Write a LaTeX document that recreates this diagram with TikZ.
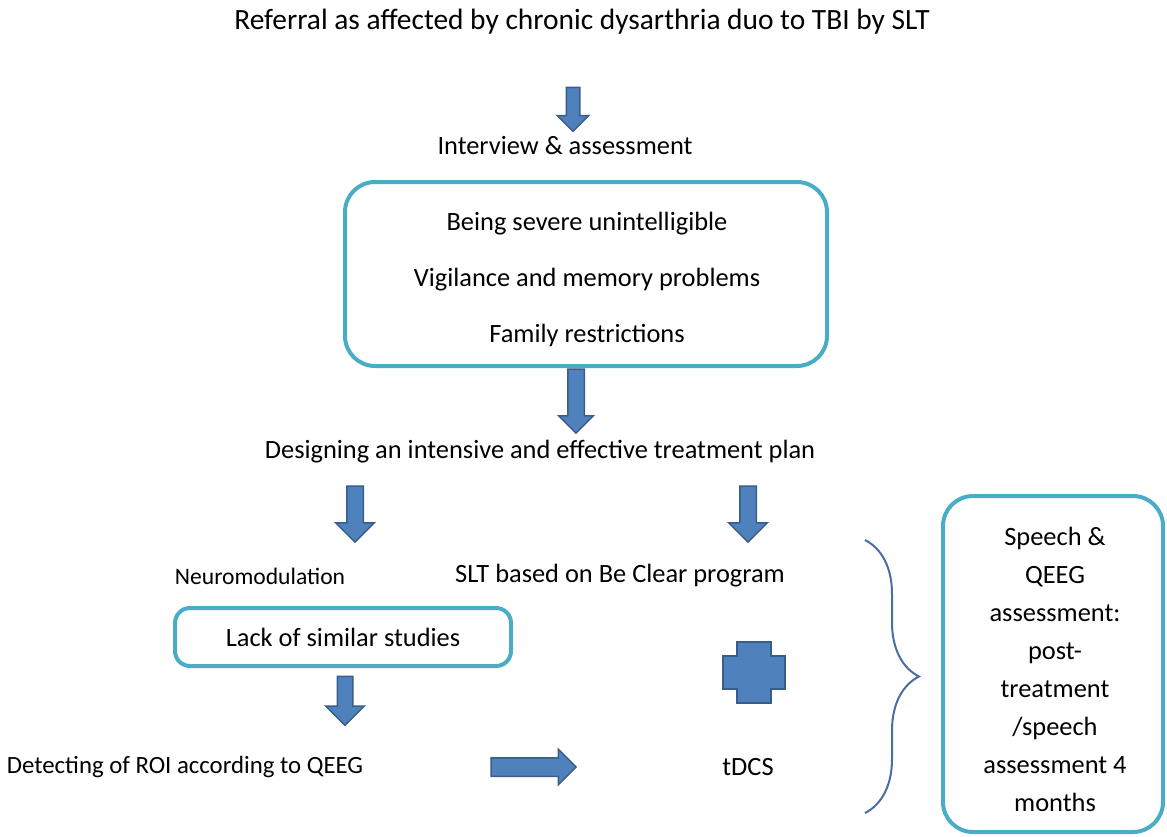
\documentclass[tikz,border=0pt]{standalone}
\usepackage{fontspec}
\setmainfont{Carlito}
\usetikzlibrary{shapes.arrows,decorations.pathreplacing,positioning}
\definecolor{PlanTeal}{HTML}{4BACC6}
\definecolor{PlanBlue}{HTML}{4F81BD}
\definecolor{PlanEdge}{HTML}{385D8A}
\definecolor{PlanBrace}{HTML}{4A6EA3}

\begin{document}
\begin{tikzpicture}[x=0.5pt,y=-0.5pt,
  plaintext/.style={inner sep=0pt,font=\fontsize{13.2}{16}\selectfont,text=black,align=center},
  roundbox/.style={draw=PlanTeal,line width=2pt,rounded corners=15pt,align=center,inner sep=0pt,font=\fontsize{13.2}{16}\selectfont},
  blockarrow/.style={single arrow,draw=PlanEdge,fill=PlanBlue,line width=0.75pt,inner xsep=0pt,single arrow tip angle=90},
  downarrow/.style={blockarrow,rotate=-90},
]
\useasboundingbox (0,0) rectangle (1167,836);
% top of the plan
\node[plaintext,font=\fontsize{14.7}{16}\selectfont] (referral) at (582,22) {Referral as affected by chronic dysarthria duo to TBI by SLT};
\node[downarrow,minimum height=22pt,minimum width=15pt,inner ysep=3pt,single arrow head extend=4.5pt] (a1) at (573,106) {};
\node[plaintext] (interview) at (565,146) {Interview \& assessment};
\node[roundbox,minimum width=241pt,minimum height=92pt] (problemsbox) at (586,274) {};
\node[plaintext,font=\fontsize{13.2}{28}\selectfont] (problems) at (587,279)
  {Being severe unintelligible\\Vigilance and memory problems\\Family restrictions};
\node[downarrow,minimum height=32pt,minimum width=16.5pt,inner ysep=3.75pt,single arrow head extend=4.5pt] (a2) at (576,397) {};
\node[plaintext] (design) at (540,452) {Designing an intensive and effective treatment plan};
% two branches
\node[downarrow,minimum height=28pt,minimum width=18.5pt,inner ysep=3.75pt,single arrow head extend=5.5pt] (a3) at (355,510) {};
\node[downarrow,minimum height=28pt,minimum width=18.5pt,inner ysep=3.75pt,single arrow head extend=5.5pt] (a4) at (748,510) {};
\node[plaintext,font=\fontsize{11.8}{16}\selectfont] (neuro) at (260,576) {Neuromodulation};
\node[plaintext] (slt) at (620,576) {SLT based on Be Clear program};
\node[roundbox,rounded corners=7.5pt,minimum width=168pt,minimum height=29pt] (lack) at (343,637) {Lack of similar studies};
\node[downarrow,minimum height=24.5pt,minimum width=18.5pt,inner ysep=3.5pt,single arrow head extend=5.75pt] (a5) at (345,697) {};
\node[plaintext,font=\fontsize{12.4}{16}\selectfont] (roi) at (185,767) {Detecting of ROI according to QEEG};
\node[blockarrow,minimum height=42.5pt,minimum width=17pt,inner ysep=4.25pt,single arrow head extend=4.25pt] (a6) at (529,767) {};
\node[plaintext] (tdcs) at (748,767) {tDCS};
\draw[fill=PlanBlue,draw=PlanEdge,line width=1pt]
  (737,642) -- (771,642) -- (771,656) -- (785,656) -- (785,689) -- (771,689) -- (771,703)
  -- (737,703) -- (737,689) -- (723,689) -- (723,656) -- (737,656) -- cycle;
% follow-up
\draw[PlanBrace,line width=1pt,decorate,decoration={brace,amplitude=27pt}] (865,540) -- (865,813);
\node[roundbox,minimum width=110pt,minimum height=168pt] (followupbox) at (1053,664) {};
\node[plaintext,font=\fontsize{13.2}{19}\selectfont] (followup) at (1055,669)
  {Speech \&\\QEEG\\assessment:\\post-\\treatment\\/speech\\assessment 4\\months};
\end{tikzpicture}
\end{document}
